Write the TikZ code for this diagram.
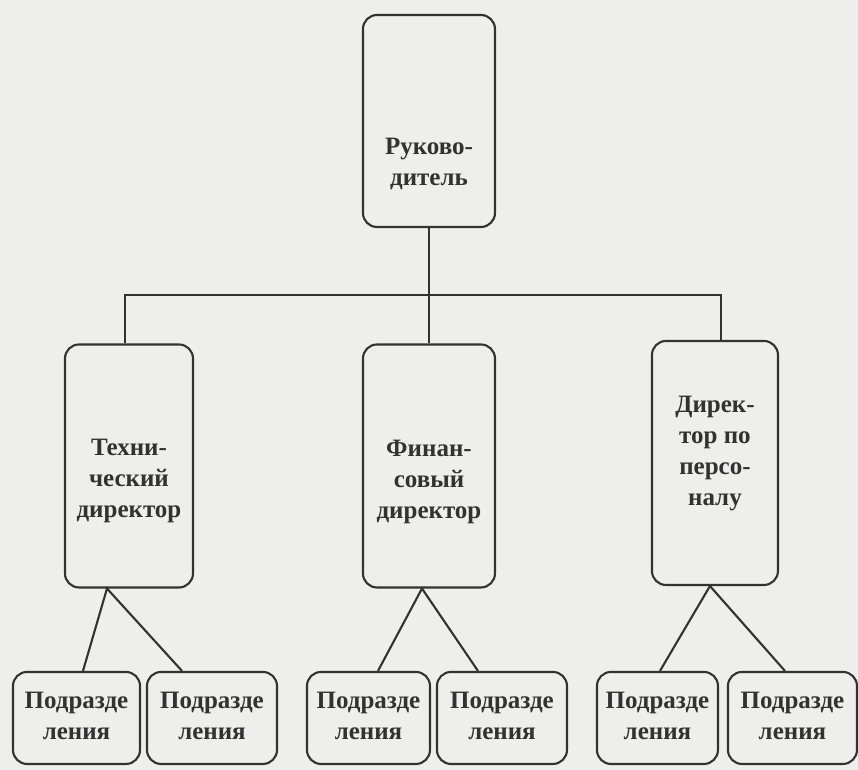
\documentclass[tikz,border=0pt]{standalone}
\usepackage{fontspec}
\setmainfont{Liberation Serif}
\usepackage{xcolor}
\usetikzlibrary{positioning}
\definecolor{paper}{RGB}{238,238,236}
\definecolor{ink}{RGB}{50,50,50}

\begin{document}
\begin{tikzpicture}[
            x = 1pt, y = -1pt, % pixel grid, y grows downwards
            line width = 2.1pt, % line style
            color = ink
        ]

        \tikzstyle{unit}=[
            draw = ink,
            line width = 2.1pt,
            rounded corners = 14pt,
            inner sep = 0pt
        ]
        \tikzstyle{caption}=[
            text = ink,
            font = \bfseries\fontsize{25}{31}\selectfont,
            align = center,
            inner sep = 0pt
        ]
        \tikzstyle{sub}=[unit, minimum height = 92pt]

        \fill[paper] (0,0) rectangle (858,770);

        % Boxes
        \node[unit, minimum width = 132pt, minimum height = 212pt] (boss) [at={(429,121)}] {};
        \node[unit, minimum width = 128pt, minimum height = 243pt] (tech) [at={(129,466)}] {};
        \node[unit, minimum width = 132pt, minimum height = 243pt] (fin) [at={(429,466)}] {};
        \node[unit, minimum width = 126pt, minimum height = 244pt] (hr) [at={(715,463)}] {};
        \node[sub, minimum width = 127pt] (sub11) [at={(76.5,718)}] {};
        \node[sub, minimum width = 130pt] (sub12) [at={(212,718)}] {};
        \node[sub, minimum width = 123pt] (sub21) [at={(368.5,718)}] {};
        \node[sub, minimum width = 130pt] (sub22) [at={(502,718)}] {};
        \node[sub, minimum width = 121pt] (sub31) [at={(657.5,718)}] {};
        \node[sub, minimum width = 129pt] (sub32) [at={(792.5,718)}] {};
        % Texts
        \node[caption] (bosstext) [at={(429,164)}] {Руково-\\дитель};
        \node[caption] (techtext) [at={(129,481)}] {Техни-\\ческий\\директор};
        \node[caption] (fintext) [at={(429,482)}] {Финан-\\совый\\директор};
        \node[caption] (hrtext) [at={(715,454)}] {Дирек-\\тор по\\персо-\\налу};
        \foreach \s in {sub11,sub12,sub21,sub22,sub31,sub32}
            \node[caption] at ([yshift=2pt]\s) {Подразде\\ления};

        % Links
        \draw (boss.south) -- (fin.north);
        \draw ([xshift=-4pt]tech.north) -- ++(0,-48) -| ([xshift=6pt]hr.north);
        \draw ([xshift=6.5pt]sub11.north) -- ([xshift=-22pt]tech.south) -- ([xshift=-30pt]sub12.north);
        \draw ([xshift=9.5pt]sub21.north) -- ([xshift=-7pt]fin.south) -- ([xshift=-24pt]sub22.north);
        \draw ([xshift=2.5pt]sub31.north) -- ([xshift=-5pt]hr.south) -- ([xshift=-7.5pt]sub32.north);

\end{tikzpicture}
\end{document}
